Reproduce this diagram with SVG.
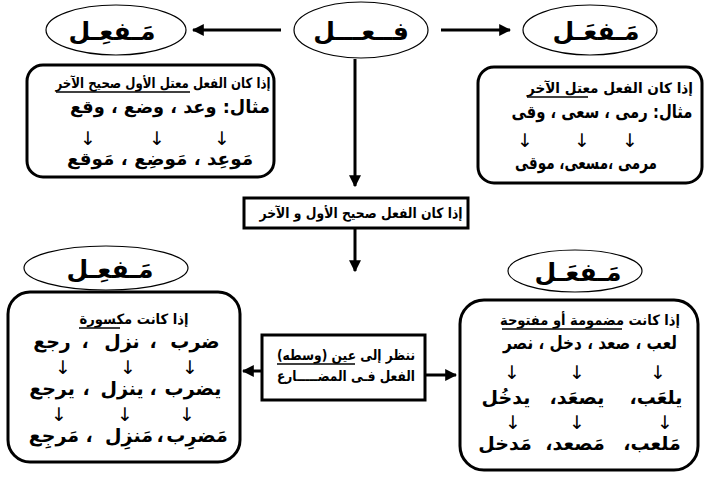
<svg xmlns="http://www.w3.org/2000/svg" width="716" height="489" viewBox="0 0 716 489">
<style>
.bg{fill:#fff}
.ell{fill:#fff;stroke:#000;stroke-width:1.2}
.box{fill:#fff;stroke:#000;stroke-width:3}
.ar{font-family:"DejaVu Sans",sans-serif;font-weight:bold;fill:#000;direction:rtl;text-anchor:middle}
.t{font-size:25px}
.s{font-size:14px}
.m{font-size:18px}
.w{font-size:19px}
.dn{font-family:"DejaVu Sans",sans-serif;font-size:19px;fill:#000;text-anchor:middle}
.ul{stroke:#000;stroke-width:1.3}
.con{stroke:#000;stroke-width:3;fill:none}
</style>
<defs>
<marker id="ah" viewBox="0 0 10 10" refX="9" refY="5" markerWidth="4" markerHeight="4" orient="auto" markerUnits="strokeWidth">
<path d="M0,0 L10,5 L0,10 z" fill="#000"/>
</marker>
</defs>
<rect class="bg" x="0" y="0" width="716" height="489"/>

<g id="connectors">
<line class="con" x1="281" y1="30" x2="193" y2="30" marker-end="url(#ah)"/>
<line class="con" x1="441" y1="30" x2="510" y2="30" marker-end="url(#ah)"/>
<line class="con" x1="355" y1="59" x2="355" y2="186" marker-end="url(#ah)"/>
<line class="con" x1="355" y1="229" x2="355" y2="271" marker-end="url(#ah)"/>
<line class="con" x1="262" y1="371" x2="243" y2="371" marker-end="url(#ah)"/>
<line class="con" x1="425" y1="375" x2="456" y2="375" marker-end="url(#ah)"/>
</g>

<g id="node-fal">
<ellipse class="ell" cx="361" cy="30" rx="67" ry="28"/>
<text class="ar t" x="361" y="40">فــعـــل</text>
</g>

<g id="node-mafil-top">
<ellipse class="ell" cx="116" cy="30" rx="70" ry="25"/>
<text class="ar t" x="112" y="40">مَـفعِـل</text>
</g>

<g id="node-mafal-top">
<ellipse class="ell" cx="590" cy="30" rx="67" ry="25"/>
<text class="ar t" x="596" y="40">مَـفعَـل</text>
</g>

<g id="node-box-tl">
<rect class="box" x="27" y="65" width="247" height="112" rx="16"/>
<text class="ar s" x="163" y="88" textLength="215" lengthAdjust="spacingAndGlyphs">إذا كان الفعل معتل الأول صحيح الآخر</text>
<line class="ul" x1="56" y1="92" x2="190" y2="92"/>
<text class="ar m" x="170" y="113" textLength="200" lengthAdjust="spacingAndGlyphs">مثال: وعد  ،  وضع  ،  وقع</text>
<text class="dn" x="88" y="145">↓</text>
<text class="dn" x="157" y="145">↓</text>
<text class="dn" x="222" y="145">↓</text>
<text class="ar m" x="160" y="165" textLength="186" lengthAdjust="spacingAndGlyphs">مَوعِد ، مَوضِع ، مَوقع</text>
</g>

<g id="node-box-tr">
<rect class="box" x="478" y="67" width="224" height="116" rx="16"/>
<text class="ar s" x="610" y="93" textLength="166" lengthAdjust="spacingAndGlyphs">إذا كان الفعل  معتل الآخر</text>
<line class="ul" x1="527" y1="97" x2="588" y2="97"/>
<text class="ar m" x="602" y="118" textLength="181" lengthAdjust="spacingAndGlyphs">مثال: رمى ، سعى ، وقى</text>
<text class="dn" x="525" y="147">↓</text>
<text class="dn" x="582" y="147">↓</text>
<text class="dn" x="630" y="147">↓</text>
<text class="ar m" x="586" y="169" textLength="142" lengthAdjust="spacingAndGlyphs">مرمى ،مسعى، موقى</text>
</g>

<g id="node-box-mid">
<rect class="box" x="244" y="198" width="224" height="30"/>
<text class="ar s" x="361" y="218" textLength="203" lengthAdjust="spacingAndGlyphs">إذا كان الفعل صحيح الأول و الآخر</text>
</g>

<g id="node-mafil-bottom">
<ellipse class="ell" cx="106" cy="268" rx="82" ry="22"/>
<text class="ar t" x="110" y="278">مَـفعِـل</text>
</g>

<g id="node-mafal-bottom">
<ellipse class="ell" cx="575" cy="271" rx="67" ry="21"/>
<text class="ar t" x="578" y="281">مَـفعَـل</text>
</g>

<g id="node-box-bl">
<rect class="box" x="8" y="292" width="232" height="170" rx="22"/>
<text class="ar s" x="134" y="324" textLength="109" lengthAdjust="spacingAndGlyphs">إذا كانت مكسورة</text>
<line class="ul" x1="79" y1="328" x2="120" y2="328"/>
<text class="ar w" x="195" y="348">ضرب</text>
<text class="ar w" x="153" y="348">،</text>
<text class="ar w" x="122" y="348">نزل</text>
<text class="ar w" x="85" y="348">،</text>
<text class="ar w" x="52" y="348">رجع</text>
<text class="dn" x="63" y="374">↓</text>
<text class="dn" x="128" y="374">↓</text>
<text class="dn" x="190" y="374">↓</text>
<text class="ar w" x="193" y="395">يضرب</text>
<text class="ar w" x="153" y="395">،</text>
<text class="ar w" x="122" y="395">ينزل</text>
<text class="ar w" x="86" y="395">،</text>
<text class="ar w" x="52" y="395">يرجع</text>
<text class="dn" x="59" y="421">↓</text>
<text class="dn" x="125" y="421">↓</text>
<text class="dn" x="187" y="421">↓</text>
<text class="ar w" x="197" y="442">مَضرِب</text>
<text class="ar w" x="160" y="442">،</text>
<text class="ar w" x="129" y="442">مَنزِل</text>
<text class="ar w" x="89" y="442">،</text>
<text class="ar w" x="54" y="442">مَرجِع</text>
</g>

<g id="node-box-center">
<rect class="box" x="262" y="335" width="163" height="65"/>
<text class="ar s" x="346" y="360" textLength="138" lengthAdjust="spacingAndGlyphs">ننظر إلى عين (وسطه)</text>
<line class="ul" x1="277" y1="364" x2="355" y2="364"/>
<text class="ar s" x="346" y="381" textLength="138" lengthAdjust="spacingAndGlyphs">الفعل فـى المضـــــارع</text>
</g>

<g id="node-box-br">
<rect class="box" x="460" y="300" width="238" height="170" rx="24"/>
<text class="ar s" x="590" y="325" textLength="180" lengthAdjust="spacingAndGlyphs">إذا كانت مضمومة أو مفتوحة</text>
<line class="ul" x1="502" y1="329" x2="622" y2="329"/>
<text class="ar m" x="590" y="349" textLength="174" lengthAdjust="spacingAndGlyphs">لعب ، صعد ، دخل ، نصر</text>
<text class="dn" x="512" y="379">↓</text>
<text class="dn" x="577" y="379">↓</text>
<text class="dn" x="658" y="379">↓</text>
<text class="ar w" x="656" y="404">يلعَب،</text>
<text class="ar w" x="577" y="404">يصعَد،</text>
<text class="ar w" x="506" y="404">يدخُل</text>
<text class="dn" x="513" y="429">↓</text>
<text class="dn" x="577" y="429">↓</text>
<text class="dn" x="665" y="429">↓</text>
<text class="ar w" x="652" y="450">مَلعب،</text>
<text class="ar w" x="575" y="450">مَصعد،</text>
<text class="ar w" x="505" y="450">مَدخل</text>
</g>
</svg>
